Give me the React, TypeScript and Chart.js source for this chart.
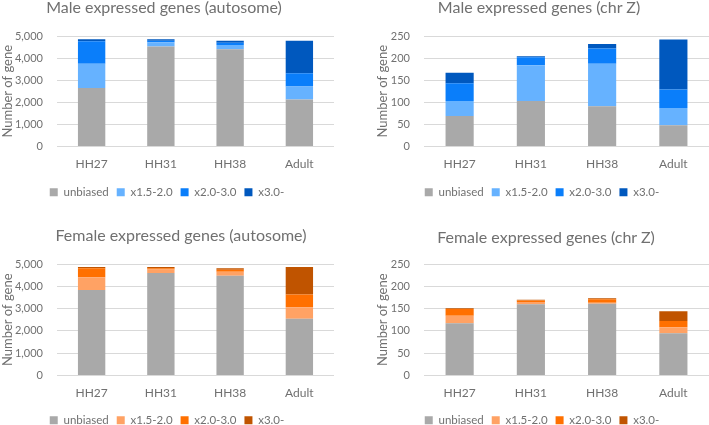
import React, { useEffect, useRef } from 'react';
import { Chart, registerables } from 'chart.js';
Chart.register(...registerables);

const categories = ['HH27', 'HH31', 'HH38', 'Adult'];
const seriesNames = ['unbiased', 'x1.5-2.0', 'x2.0-3.0', 'x3.0-'];

// Male expressed genes (autosome)
const maleAutoUnbiased = [2650, 4520, 4400, 2130];
const maleAutoX15 = [1100, 195, 195, 590];
const maleAutoX20 = [1010, 75, 105, 590];
const maleAutoX30 = [90, 60, 90, 1480];

// Male expressed genes (chr Z)
const maleZUnbiased = [69, 103, 91, 48];
const maleZX15 = [34, 81, 96, 39];
const maleZX20 = [40, 18, 35, 42];
const maleZX30 = [24, 2, 10, 113];

// Female expressed genes (autosome)
const femaleAutoUnbiased = [3830, 4600, 4475, 2540];
const femaleAutoX15 = [580, 150, 180, 525];
const femaleAutoX20 = [395, 60, 90, 570];
const femaleAutoX30 = [60, 55, 60, 1230];

// Female expressed genes (chr Z)
const femaleZUnbiased = [117, 160, 161, 95];
const femaleZX15 = [17, 5, 2, 13];
const femaleZX20 = [15, 3, 8, 14];
const femaleZX30 = [2, 2, 2, 22];

const blueColors = ['#A9A9A9', '#66B2FF', '#0A7EFA', '#0058BE'];
const orangeColors = ['#A9A9A9', '#FFA264', '#FF7000', '#C05400'];

const TEXT = '#707070';
const FONT = 'Lato, "Open Sans", sans-serif';

interface PanelProps {
  left: number;
  top: number;
  width: number;
  height: number;
  padTop: number;
  yAxisWidth: number;
  xAxisHeight: number;
  yMax: number;
  yStep: number;
  series: number[][];
  colors: string[];
  title: string;
  titleCx: number;
  titleBaseline: number;
}

function Panel(p: PanelProps) {
  const ref = useRef<HTMLCanvasElement>(null);
  useEffect(() => {
    if (!ref.current) return;
    const chart = new Chart(ref.current, {
      type: 'bar',
      data: {
        labels: categories,
        datasets: seriesNames.map((name, i) => ({
          label: name,
          data: p.series[i],
          backgroundColor: p.colors[i],
          borderWidth: 0,
          categoryPercentage: 1,
          barPercentage: 0.395,
        })),
      },
      options: {
        responsive: false,
        animation: false,
        font: { family: FONT },
        layout: { padding: { top: p.padTop, left: 0, right: 0, bottom: 0 } },
        plugins: {
          legend: {
            position: 'bottom',
            labels: {
              boxWidth: 8,
              boxHeight: 8,
              padding: 8,
              color: TEXT,
              font: { size: 11.5, family: FONT },
            },
          },
          title: { display: false },
          tooltip: { enabled: false },
        },
        scales: {
          x: {
            stacked: true,
            grid: { display: false, drawTicks: false },
            border: { display: false },
            ticks: { color: TEXT, font: { size: 12, family: FONT }, padding: 10 },
            afterFit: (s: any) => {
              s.height = p.xAxisHeight;
            },
          },
          y: {
            stacked: true,
            min: 0,
            max: p.yMax,
            ticks: {
              stepSize: p.yStep,
              color: TEXT,
              font: { size: 11, family: FONT },
              padding: 14,
              callback: (v: any) => Number(v).toLocaleString('en-US'),
            },
            grid: { color: '#D9D9D9', drawTicks: false },
            border: { display: false },
            title: {
              display: true,
              text: 'Number of gene',
              color: TEXT,
              font: { size: 13, family: FONT },
              padding: 0,
            },
            afterFit: (s: any) => {
              s.width = p.yAxisWidth;
            },
          },
        },
      } as any,
    });
    return () => chart.destroy();
  }, []);
  return (
    <>
      <canvas
        ref={ref}
        width={p.width}
        height={p.height}
        style={{ position: 'absolute', left: p.left, top: p.top, width: p.width, height: p.height }}
      />
      <div
        style={{
          position: 'absolute',
          left: p.titleCx - 200,
          top: p.titleBaseline - 16.2,
          width: 400,
          textAlign: 'center',
          fontFamily: FONT,
          fontSize: 16,
          lineHeight: '20px',
          color: TEXT,
          whiteSpace: 'nowrap',
        }}
      >
        {p.title}
      </div>
    </>
  );
}

export default function App() {
  return (
    <div
      style={{
        position: 'fixed',
        left: 0,
        top: 0,
        width: 709,
        height: 425,
        overflow: 'hidden',
        background: '#ffffff',
      }}
    >
      <Panel
        left={0}
        top={0}
        width={334}
        height={208}
        padTop={36}
        yAxisWidth={57}
        xAxisHeight={32}
        yMax={5000}
        yStep={1000}
        series={[maleAutoUnbiased, maleAutoX15, maleAutoX20, maleAutoX30]}
        colors={blueColors}
        title="Male expressed genes (autosome)"
        titleCx={164}
        titleBaseline={12.7}
      />
      <Panel
        left={375}
        top={0}
        width={334}
        height={208}
        padTop={36}
        yAxisWidth={49}
        xAxisHeight={32}
        yMax={250}
        yStep={50}
        series={[maleZUnbiased, maleZX15, maleZX20, maleZX30]}
        colors={blueColors}
        title="Male expressed genes (chr Z)"
        titleCx={539}
        titleBaseline={12.7}
      />
      <Panel
        left={0}
        top={212}
        width={334}
        height={224}
        padTop={52}
        yAxisWidth={57}
        xAxisHeight={31}
        yMax={5000}
        yStep={1000}
        series={[femaleAutoUnbiased, femaleAutoX15, femaleAutoX20, femaleAutoX30]}
        colors={orangeColors}
        title="Female expressed genes (autosome)"
        titleCx={181}
        titleBaseline={241}
      />
      <Panel
        left={375}
        top={212}
        width={334}
        height={224}
        padTop={52}
        yAxisWidth={49}
        xAxisHeight={31}
        yMax={250}
        yStep={50}
        series={[femaleZUnbiased, femaleZX15, femaleZX20, femaleZX30]}
        colors={orangeColors}
        title="Female expressed genes (chr Z)"
        titleCx={546}
        titleBaseline={242.7}
      />
    </div>
  );
}
